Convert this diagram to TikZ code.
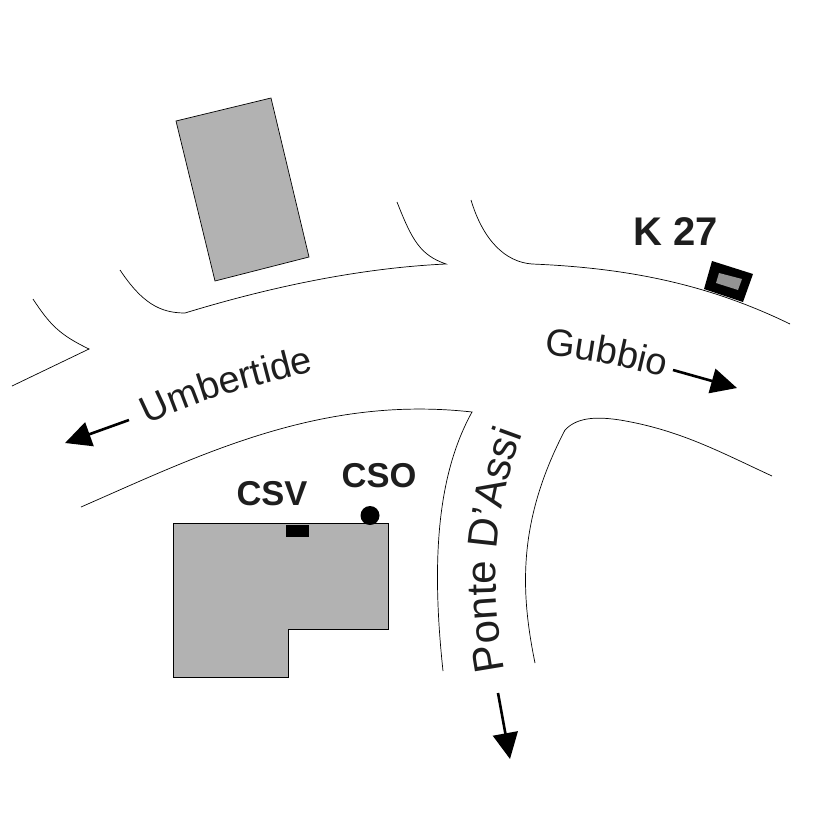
\documentclass[tikz,border=0pt]{standalone}
\usepackage{fontspec}
\setmainfont{Liberation Sans}
\usetikzlibrary{arrows.meta, decorations.text}
\definecolor{bldgray}{RGB}{178,178,178}
\definecolor{txtcolor}{RGB}{30,30,30}
\begin{document}
\begin{tikzpicture}[x=1pt, y=-1pt,
    road/.style={draw=black, line width=0.7pt},
    building/.style={draw=black, line width=0.7pt, fill=bldgray},
    direction/.style={line width=2.6pt, -{Triangle[length=26pt, width=25pt]}},
    streetname/.style={decorate, decoration={text along path, text color=txtcolor,
        text={|\fontsize{#1}{#1}\selectfont|\streettext}}},
    sitename/.style={font=\fontsize{#1}{#1}\selectfont\bfseries, text=txtcolor, inner sep=0pt}
]
    \useasboundingbox (0,0) rectangle (827,827);

    % roads
    \draw[road] (33,299) .. controls (50,325) and (60,335) .. (89,349) -- (12,386);
    \draw[road] (120,270) .. controls (142,303) and (160,313) .. (185,313)
        .. controls (270,287) and (360,268) .. (446,264)
        .. controls (420,255) and (412,240) .. (397,202);
    \draw[road] (471,200) .. controls (483,240) and (505,262) .. (532,264)
        .. controls (630,268) and (710,285) .. (790,324);
    \draw[road] (81,507) .. controls (200,455) and (320,395) .. (472,412)
        .. controls (440,470) and (430,550) .. (443,671);
    \draw[road] (535,663) .. controls (520,590) and (518,520) .. (565,430)
        .. controls (578,416) and (600,417) .. (620,420)
        .. controls (680,430) and (720,452) .. (772,476);

    % buildings
    \draw[building] (176,121) -- (271,98) -- (309,257) -- (215,281) -- cycle;
    \draw[building] (173,523) -- (388,523) -- (388,629) -- (288,629) -- (288,677) -- (173,677) -- cycle;
    \fill[black] (286,525) rectangle (309,537);
    \fill[black] (370,515.5) circle (9.5);
    \fill[black] (712,261) -- (753,274) -- (743,302) -- (704,289) -- cycle;
    \fill[gray!85] (719,273) -- (742,279) -- (738,290) -- (716,283) -- cycle;

    % labels
    \node[sitename=40] (k27) at (676,232) {K 27};
    \node[sitename=34.5] (csv) at (272,494) {CSV};
    \node[sitename=34.5] (cso) at (379,476) {CSO};
    \def\streettext{Umbertide}
    \path[streetname=38] (148,425) .. controls (200,398) and (260,385) .. (325,368);
    \def\streettext{Gubbio}
    \path[streetname=38] (544,355) .. controls (575,358) and (625,365) .. (680,382);
    \def\streettext{Ponte D'Assi}
    \path[streetname=42] (505,670) .. controls (490,590) and (490,510) .. (530,415);

    % arrows
    \coordinate (ufrom) at (129,420);
    \coordinate (uto) at (65,443);
    \coordinate (gfrom) at (673,370);
    \coordinate (gto) at (737,388);
    \coordinate (pfrom) at (498,693);
    \coordinate (pto) at (510,759);
    \draw[direction] (ufrom) -- (uto);
    \draw[direction] (gfrom) -- (gto);
    \draw[direction] (pfrom) -- (pto);
\end{tikzpicture}
\end{document}
